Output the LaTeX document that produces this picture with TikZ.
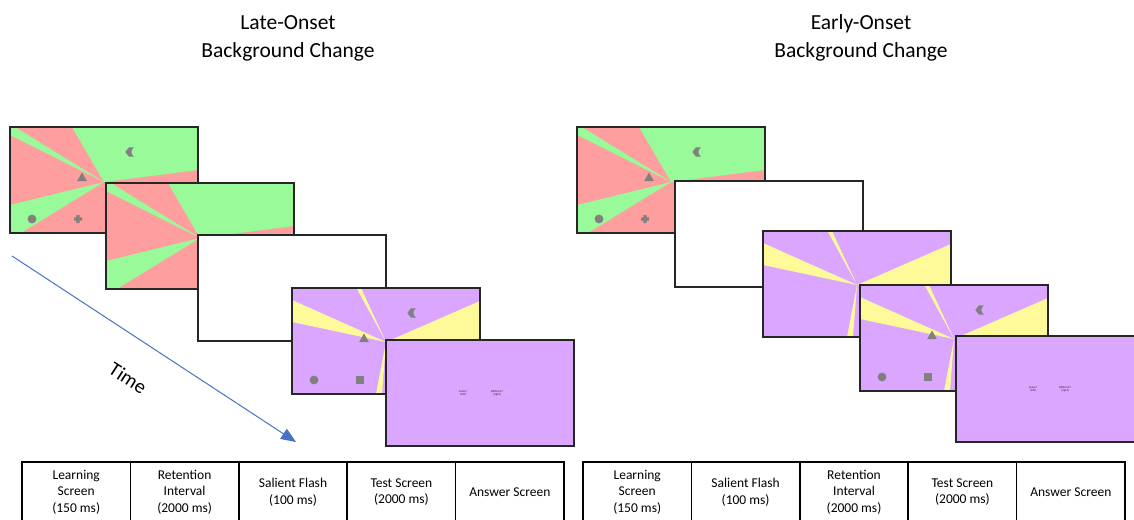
\documentclass[tikz,border=0pt]{standalone}
\usepackage{fontspec}
\setmainfont{Carlito}
\usetikzlibrary{arrows.meta}
\usetikzlibrary{positioning}
\definecolor{salmonbg}{RGB}{255,158,158}
\definecolor{mintbg}{RGB}{153,250,153}
\definecolor{lilacbg}{RGB}{219,166,255}
\definecolor{lemonbg}{RGB}{255,250,153}
\definecolor{itemgray}{RGB}{128,128,128}
\definecolor{framegray}{RGB}{38,38,38}
\definecolor{timeblue}{RGB}{68,114,196}

%red and green pinwheel screen
\newcommand{\rgscreen}{
  \fill[salmonbg] (0,0) rectangle (188,106);
  \fill[mintbg] (94,55) -- (5,0) -- (0,0) -- (0,8) -- cycle;
  \fill[mintbg] (94,55) -- (62,0) -- (188,0) -- (188,43) -- cycle;
  \fill[mintbg] (94,55) -- (0,78) -- (0,106) -- (11,106) -- cycle;
  \draw[frame] (0,0) rectangle (188,106);
}
%purple and yellow pinwheel screen
\newcommand{\pyscreen}{
  \fill[lilacbg] (0,0) rectangle (188,106);
  \fill[lemonbg] (94,54) -- (0,12) -- (0,34) -- cycle;
  \fill[lemonbg] (94,54) -- (64.5,0) -- (69,0) -- cycle;
  \fill[lemonbg] (94,54) -- (188,13) -- (188,62) -- cycle;
  \fill[lemonbg] (94,54) -- (84,106) -- (90,106) -- cycle;
  \draw[frame] (0,0) rectangle (188,106);
}
%crescent, triangle and circle
\newcommand{\screenitems}{
  \fill[itemgray,shift={(120,25)}] (4,-4.7) -- (-1,-4.7) -- (-4.7,0) -- (-1,4.7) -- (4,4.7) .. controls (0.5,2) and (0.5,-2) .. (4,-4.7) -- cycle;
  \fill[itemgray,shift={(72,50)}] (0,-4.6) -- (4.8,4) -- (-4.8,4) -- cycle;
  \fill[itemgray] (22,92) circle (4.4);
}

\begin{document}
\begin{tikzpicture}[x=1pt,y=1pt,yscale=-1,xscale=1,
  frame/.style={draw=framegray,line width=1.3},
  title/.style={align=center,inner sep=0pt,font=\fontsize{21.5}{28}\selectfont},
  cell/.style={draw=black,line width=1.5,outer sep=0pt,inner sep=0pt,minimum width=108.4,minimum height=60,align=center,font=\fontsize{13.5}{16.5}\selectfont},
  answer/.style={align=center,inner sep=0pt,text=black!85,font=\fontsize{2.9}{3.2}\selectfont},
]
\path[use as bounding box,clip] (0,0) rectangle (1134,519);

% Text Node
\node[title] (lateTitle) at (288,38) {Late-Onset\\Background Change};
% Text Node
\node[title] (earlyTitle) at (861,38) {Early-Onset\\Background Change};

%Late-onset screens
\begin{scope}[shift={(10,127)}]
  \rgscreen
  \screenitems
  \fill[itemgray,shift={(68,92)}] (-1.6,-4) rectangle (1.6,4) (-4,-1.6) rectangle (4,1.6);
\end{scope}
\begin{scope}[shift={(106,183)}]
  \rgscreen
\end{scope}
\draw[frame,fill=white] (198,235) rectangle +(188,106);
\begin{scope}[shift={(292,288)}]
  \pyscreen
  \screenitems
  \fill[itemgray] (63.7,87.7) rectangle +(8.6,8.6);
\end{scope}
\draw[frame,fill=lilacbg] (386,340) rectangle +(188,106);
\node[answer] (lateSame) at (463,393) {Same?\\(left)};
\node[answer] (lateDiff) at (497,393) {Different?\\(right)};

%Early-onset screens
\begin{scope}[shift={(577,127)}]
  \rgscreen
  \screenitems
  \fill[itemgray,shift={(68,92)}] (-1.6,-4) rectangle (1.6,4) (-4,-1.6) rectangle (4,1.6);
\end{scope}
\draw[frame,fill=white] (675,181) rectangle +(188,106);
\begin{scope}[shift={(763,231)}]
  \pyscreen
\end{scope}
\begin{scope}[shift={(860,285)}]
  \pyscreen
  \screenitems
  \fill[itemgray] (63.7,87.7) rectangle +(8.6,8.6);
\end{scope}
\draw[frame,fill=lilacbg] (956,336) rectangle +(188,106);
\node[answer] (earlySame) at (1033,389) {Same?\\(left)};
\node[answer] (earlyDiff) at (1065,389) {Different?\\(right)};

%Time arrow
\coordinate (timeStart) at (12,256);
\coordinate (timeEnd) at (296,442);
\draw[timeblue,line width=1,-{Triangle[length=15pt,width=12pt]}] (timeStart) -- (timeEnd);
% Text Node
\node[rotate=-33,inner sep=0pt,font=\fontsize{20}{22}\selectfont] (timeLabel) at (128,378) {Time};

%Late-onset table
\node[cell,anchor=north west] (l1) at (22,462) {Learning\\Screen\\(150 ms)};
\node[cell,right=0pt of l1] (l2) {Retention\\Interval\\(2000 ms)};
\node[cell,right=0pt of l2] (l3) {Salient Flash\\(100 ms)};
\node[cell,right=0pt of l3] (l4) {Test Screen\\(2000 ms)};
\node[cell,right=0pt of l4] (l5) {Answer Screen};

%Early-onset table
\node[cell,anchor=north west] (e1) at (583,462) {Learning\\Screen\\(150 ms)};
\node[cell,right=0pt of e1] (e2) {Salient Flash\\(100 ms)};
\node[cell,right=0pt of e2] (e3) {Retention\\Interval\\(2000 ms)};
\node[cell,right=0pt of e3] (e4) {Test Screen\\(2000 ms)};
\node[cell,right=0pt of e4] (e5) {Answer Screen};

\end{tikzpicture}
\end{document}
